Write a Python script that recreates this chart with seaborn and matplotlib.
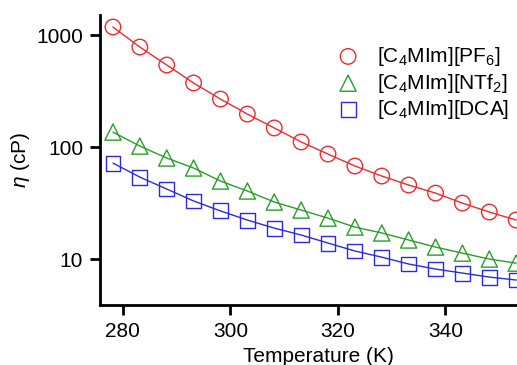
import numpy as np
import pandas as pd
import matplotlib
matplotlib.use("Agg")
import matplotlib.pyplot as plt
import seaborn as sns

temperature = [278.15, 283.15, 288.15, 293.15, 298.15, 303.15, 308.15, 313.15,
               318.15, 323.15, 328.15, 333.15, 338.15, 343.15, 348.15, 353.15]
pf6 = [1179, 781, 540, 373, 268, 197, 148, 111, 86.6, 67.7, 55.1, 45.8, 38.8, 31.6, 26.3, 22.3]
ntf2 = [136, 102, 79.8, 65.0, 49.7, 40.5, 32.3, 27.4, 23.2, 19.3, 17.1, 14.8, 12.8, 11.3, 10.0, 9.2]
dca = [71.9, 53.9, 42.2, 33.0, 26.9, 22.3, 18.9, 16.4, 13.9, 11.8, 10.4, 9.03, 8.15, 7.50, 6.91, 6.50]
labels = ["[C$_4$MIm][PF$_6$]", "[C$_4$MIm][NTf$_2$]", "[C$_4$MIm][DCA]"]
yticks = [10, 100, 1000]
xticks = [280, 300, 320, 340]

sns.set_theme(style="ticks")
plt.rcParams['font.family'] = ['Liberation Sans', 'DejaVu Sans']
plt.rcParams['mathtext.fontset'] = 'custom'
plt.rcParams['mathtext.rm'] = 'Liberation Sans'
plt.rcParams['mathtext.it'] = 'Liberation Sans:italic'
plt.rcParams['text.color'] = 'black'
plt.rcParams['axes.labelcolor'] = 'black'

fig = plt.figure(figsize=(5.17, 3.65), dpi=100)
ax = fig.add_axes([0.193, 0.164, 0.807, 0.795])

series = [pf6, ntf2, dca]
colors = ['#ee2a30', '#2a9e2a', '#2b2bdc']
markers = ['o', '^', 's']
sizes = [125, 135, 115]

for vals, lab, col, mk, sz in zip(series, labels, colors, markers, sizes):
    df = pd.DataFrame({"T": temperature, "eta": vals})
    sns.lineplot(data=df, x="T", y="eta", color=col, lw=1.0, ax=ax, legend=False)
    sns.scatterplot(data=df, x="T", y="eta", marker=mk, s=sz, facecolors='none',
                    edgecolor=col, linewidth=1.0, ax=ax, label=lab, zorder=3)

ax.set_yscale('log')
ax.set_xlim(275.7, 353.3)
ax.set_ylim(3.88, 1510)
ax.set_xticks(xticks)
ax.set_xticklabels([str(t) for t in xticks])
ax.set_yticks(yticks)
ax.set_yticklabels([str(t) for t in yticks])
ax.minorticks_off()
ax.yaxis.set_minor_locator(matplotlib.ticker.NullLocator())

for s in ['top', 'right']:
    ax.spines[s].set_visible(False)
for s in ['left', 'bottom']:
    ax.spines[s].set_linewidth(2.0)
    ax.spines[s].set_color('black')
ax.tick_params(axis='both', which='major', direction='out', length=7, width=2.0,
               labelsize=15, pad=5, colors='black')

ax.set_xlabel("Temperature (K)", fontsize=15, labelpad=4)
ax.xaxis.set_label_coords(0.525, -0.145)
ax.set_ylabel(r"$\eta$ (cP)", fontsize=15, labelpad=3)

leg = ax.legend(loc='upper right', bbox_to_anchor=(1.012, 0.94), frameon=False,
                fontsize=15, handletextpad=0.4, labelspacing=0.18, borderaxespad=0.2)

fig.savefig("out.png", dpi=100)
